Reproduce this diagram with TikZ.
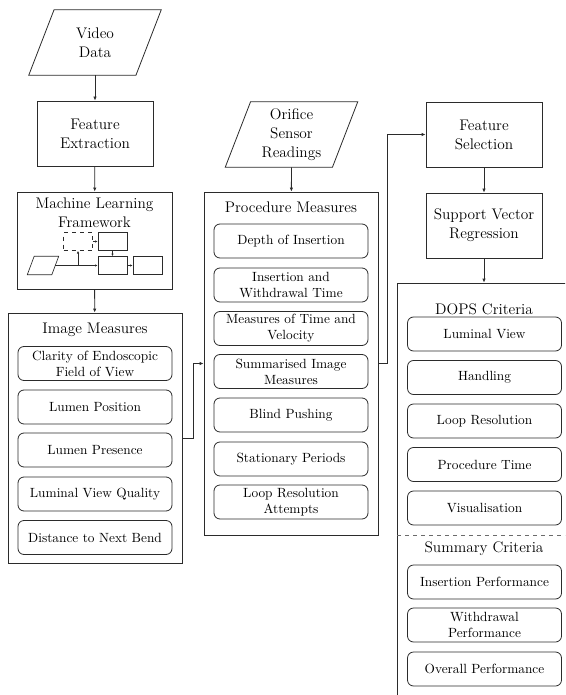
\documentclass[tikz,border=0pt]{standalone}
\usepackage{tikz}
\usetikzlibrary{positioning,arrows.meta}
\definecolor{edge}{HTML}{2B2B2B}

\begin{document}
\begin{tikzpicture}[
    x=0.75pt, y=-0.75pt,
    every node/.style={font=\fontsize{11.5}{14.3}\selectfont},
    box/.style={draw=edge, line width=0.6pt, align=center, minimum width=87pt, minimum height=48.75pt},
    data/.style={align=center, minimum width=80pt, minimum height=48.75pt,
        append after command={\pgfextra{\draw[draw=edge, line width=0.6pt, line join=miter]
            ([xshift=-9.5pt]\tikzlastnode.south west) -- ([xshift=9.5pt]\tikzlastnode.north west)
            -- ([xshift=9.5pt]\tikzlastnode.north east) -- ([xshift=-9.5pt]\tikzlastnode.south east) -- cycle;}}},
    minidata/.style={minimum width=18pt, minimum height=13.5pt, inner sep=0pt,
        append after command={\pgfextra{\draw[draw=edge, line width=0.5pt]
            ([xshift=-2.6pt]\tikzlastnode.south west) -- ([xshift=2.6pt]\tikzlastnode.north west)
            -- ([xshift=2.6pt]\tikzlastnode.north east) -- ([xshift=-2.6pt]\tikzlastnode.south east) -- cycle;}}},
    group/.style={draw=edge, line width=0.6pt, minimum width=130.5pt},
    item/.style={draw=edge, line width=0.6pt, rounded corners=4.5pt, align=center, minimum width=115.5pt, minimum height=25.5pt, inner sep=1pt, font=\fontsize{10}{12}\selectfont},
    title/.style={align=center},
    mini/.style={draw=edge, line width=0.5pt, minimum width=21.75pt, minimum height=13.5pt, inner sep=0pt},
    arr/.style={-{Latex[length=3pt,width=2.6pt]}, line width=0.6pt, draw=edge},
    miniarr/.style={-{Latex[length=2pt,width=1.8pt]}, line width=0.5pt, draw=edge},
    divider/.style={dashed, line width=0.6pt, draw=edge!70}
]
    \useasboundingbox (0,0) rectangle (565,695);
    \clip (0,0) rectangle (565,695);

    % Left column
    \node[data] (video) at (95,42.5) {Video\\Data};
    \node[box] (featext) at (95,133.5) {Feature\\Extraction};
    \node[group, minimum width=116.25pt, minimum height=72.75pt] (mlframe) at (94.5,240.5) {};
    \node[title] (mltitle) at (94.5,213) {Machine Learning\\Framework};

    % Small flow inside the framework box
    \node[minidata] (mpar) at (43,265.5) {};
    \node[mini, dashed] (mdash) at (78,241.5) {};
    \node[mini] (mtop) at (112.5,241.5) {};
    \node[mini] (mmid) at (112.5,265.5) {};
    \node[mini] (mout) at (147.5,265.5) {};
    \coordinate (mjoin) at (78,265.5);

    \node[group, minimum height=187.5pt] (imgmeas) at (95,438) {};
    \node[title] (imgtitle) at (95,330) {Image Measures};
    \node[item] (clarity) at (95,363.5) {Clarity of Endoscopic\\Field of View};
    \node[item] (lumpos) at (95,407) {Lumen Position};
    \node[item] (lumpres) at (95,450) {Lumen Presence};
    \node[item] (lumqual) at (95,494) {Luminal View Quality};
    \node[item] (bend) at (95,537.5) {Distance to Next Bend};

    % Middle column
    \node[data] (orifice) at (291.5,134.5) {Orifice\\Sensor\\Readings};
    \node[group, minimum height=257.25pt] (procmeas) at (291,363.5) {};
    \node[title] (proctitle) at (291,207) {Procedure Measures};
    \node[item] (depth) at (291,241) {Depth of Insertion};
    \node[item] (instime) at (291,285) {Insertion and\\Withdrawal Time};
    \node[item] (velocity) at (291,328.5) {Measures of Time and\\Velocity};
    \node[item] (summimg) at (291,371.5) {Summarised Image\\Measures};
    \node[item] (blind) at (291,415) {Blind Pushing};
    \node[item] (station) at (291,459) {Stationary Periods};
    \node[item] (loopatt) at (291,502) {Loop Resolution\\Attempts};

    % Right column
    \node[box] (featsel) at (484,134.5) {Feature\\Selection};
    \node[box] (svr) at (484,225.5) {Support Vector\\Regression};
    \node[group, minimum height=320.25pt] (dops) at (484,496.5) {};
    \node[title] (dopstitle) at (484,309) {DOPS Criteria};
    \node[item] (lumview) at (484.5,334) {Luminal View};
    \node[item] (handling) at (484.5,377.5) {Handling};
    \node[item] (loopres) at (484.5,421) {Loop Resolution};
    \node[item] (proctime) at (484.5,464.5) {Procedure Time};
    \node[item] (visual) at (484.5,508) {Visualisation};
    \coordinate (divL) at (397,535);
    \coordinate (divR) at (571,535);
    \draw[divider] (divL) -- (divR);
    \node[title] (sumtitle) at (484,549) {Summary Criteria};
    \node[item] (insperf) at (484.5,582) {Insertion Performance};
    \node[item] (withperf) at (484.5,625) {Withdrawal\\Performance};
    \node[item] (allperf) at (484.5,669) {Overall Performance};

    % Connections
    \draw[arr] (video) -- (featext);
    \draw[arr] (featext) -- (mlframe);
    \draw[arr] (mlframe) -- (imgmeas);
    \draw[arr] (imgmeas.east) -- ++(11,0) |- (procmeas.west);
    \draw[arr] (orifice) -- (procmeas);
    \draw[arr] (procmeas.east) -- ++(9,0) |- (featsel.west);
    \draw[arr] (featsel) -- (svr);
    \draw[arr] (svr) -- (dops);

    \draw[miniarr] (mpar.east) -- (mmid.west);
    \draw[miniarr] (mjoin) -- (mdash.south);
    \draw[miniarr] (mdash) -- (mtop);
    \draw[miniarr] (mtop) -- (mmid);
    \draw[miniarr] (mmid) -- (mout);
\end{tikzpicture}
\end{document}
